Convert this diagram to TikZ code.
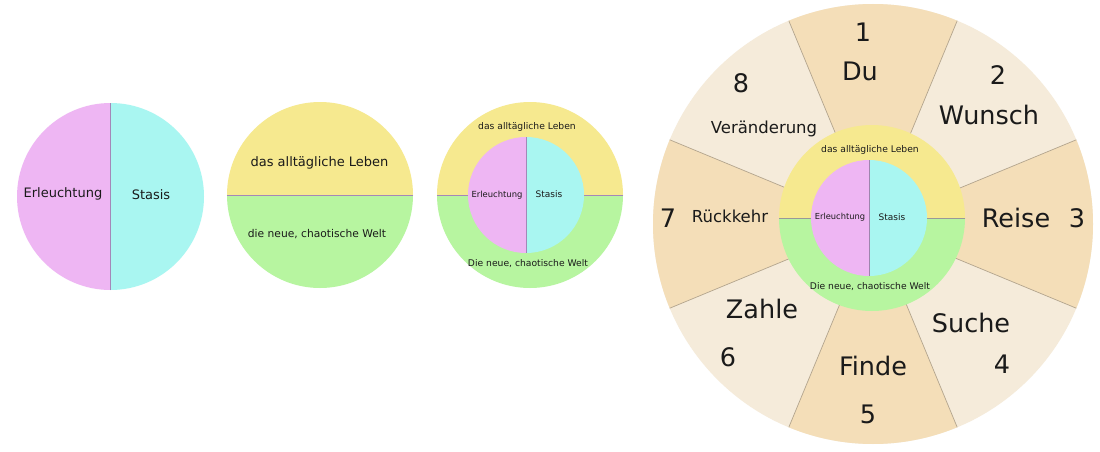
\documentclass[tikz,border=0pt]{standalone}
\usepackage{fontspec}
\setmainfont{DejaVu Sans}
\usetikzlibrary{calc}
\definecolor{pinkc}{HTML}{EEB6F3}
\definecolor{cyanc}{HTML}{A9F6F1}
\definecolor{yellowc}{HTML}{F6E98F}
\definecolor{greenc}{HTML}{B7F5A0}
\definecolor{darksec}{HTML}{F4DEB8}
\definecolor{lightsec}{HTML}{F5EBDA}
\definecolor{secline}{HTML}{B3A58E}
\definecolor{divline}{HTML}{A487B8}
\definecolor{txt}{HTML}{1A1A1A}
\tikzset{
  lbl/.style={anchor=base,inner sep=0pt,text=txt,font=\fontsize{#1}{#1}\selectfont,yshift={-0.36*#1pt}},
  divider/.style={draw=divline,line width=0.9pt},
  seclinestyle/.style={draw=secline,line width=0.7pt},
}
\begin{document}
\begin{tikzpicture}[x=1pt,y=1pt]
\useasboundingbox (0,0) rectangle (1100,451);
\fill[white] (0,0) rectangle (1100,451);
% ---------- circle 1 ----------
\coordinate (c1) at (110.5,254.5);
\fill[pinkc] (c1) -- ++(90:93.5) arc[start angle=90,end angle=270,radius=93.5] -- cycle;
\fill[cyanc] (c1) -- ++(-90:93.5) arc[start angle=-90,end angle=90,radius=93.5] -- cycle;
\coordinate (c1t) at ($(c1)+(0,93.5)$);
\coordinate (c1b) at ($(c1)+(0,-93.5)$);
\draw[divider] (c1t) -- (c1b);
\node[lbl=13] (e1) at (63,258) {Erleuchtung};
\node[lbl=13] (s1) at (151,256) {Stasis};
% ---------- circle 2 ----------
\coordinate (c2) at (320,256);
\fill[yellowc] (c2) -- ++(0:93) arc[start angle=0,end angle=180,radius=93] -- cycle;
\fill[greenc] (c2) -- ++(180:93) arc[start angle=180,end angle=360,radius=93] -- cycle;
\coordinate (c2l) at ($(c2)+(-93,0)$);
\coordinate (c2r) at ($(c2)+(93,0)$);
\draw[divider] (c2l) -- (c2r);
\node[lbl=13] (d2) at (319.5,289) {das alltägliche Leben};
\node[lbl=10.7] (w2) at (317,217) {die neue, chaotische Welt};
% ---------- circle 3 ----------
\coordinate (c3) at (530,256);
\fill[yellowc] (c3) -- ++(0:93) arc[start angle=0,end angle=180,radius=93] -- cycle;
\fill[greenc] (c3) -- ++(180:93) arc[start angle=180,end angle=360,radius=93] -- cycle;
\coordinate (c3l) at ($(c3)+(-93,0)$);
\coordinate (c3r) at ($(c3)+(93,0)$);
\draw[divider] (c3l) -- (c3r);
\coordinate (p3) at (526,256);
\fill[pinkc] (p3) -- ++(90:58) arc[start angle=90,end angle=270,radius=58] -- cycle;
\fill[cyanc] (p3) -- ++(-90:58) arc[start angle=-90,end angle=90,radius=58] -- cycle;
\coordinate (p3t) at ($(p3)+(0,58)$);
\coordinate (p3b) at ($(p3)+(0,-58)$);
\draw[divider] (p3t) -- (p3b);
\node[lbl=9.2] (d3) at (527,325) {das alltägliche Leben};
\node[lbl=8.4] (e3) at (497,257) {Erleuchtung};
\node[lbl=9] (s3) at (549,257) {Stasis};
\node[lbl=9.2] (w3) at (528,188) {Die neue, chaotische Welt};
% ---------- big wheel ----------
\coordinate (c4) at (873,227);
\fill[lightsec] (c4) circle[radius=220];
\foreach \a in {90,0,-90,180}{
  \fill[darksec] (c4) -- ++(\a-22.5:220) arc[start angle=\a-22.5,end angle=\a+22.5,radius=220] -- cycle;
}
\foreach \a in {22.5,67.5,...,337.5}{
  \draw[seclinestyle] (c4) -- ++(\a:220);
}
% ring
\coordinate (r4) at (872,233);
\fill[yellowc] (r4) -- ++(0:93) arc[start angle=0,end angle=180,radius=93] -- cycle;
\fill[greenc] (r4) -- ++(180:93) arc[start angle=180,end angle=360,radius=93] -- cycle;
\coordinate (r4l) at ($(r4)+(-93,0)$);
\coordinate (r4r) at ($(r4)+(93,0)$);
\draw[draw=gray!80,line width=0.8pt] (r4l) -- (r4r);
\coordinate (p4) at (869,233);
\fill[pinkc] (p4) -- ++(90:58) arc[start angle=90,end angle=270,radius=58] -- cycle;
\fill[cyanc] (p4) -- ++(-90:58) arc[start angle=-90,end angle=90,radius=58] -- cycle;
\coordinate (p4t) at ($(p4)+(0,58)$);
\coordinate (p4b) at ($(p4)+(0,-58)$);
\draw[draw=divline!80!gray,line width=0.8pt] (p4t) -- (p4b);
\node[lbl=9.2] (d4) at (870,302) {das alltägliche Leben};
\node[lbl=9.2] (w4) at (870,165) {Die neue, chaotische Welt};
\node[lbl=8.3] (e4) at (840,234) {Erleuchtung};
\node[lbl=9] (s4) at (892,234) {Stasis};
% sector labels
\tikzset{big/.style={lbl=25.5},
         med/.style={lbl=16.5}}
\node[big] (n1) at (863,419) {1};
\node[big] (t1) at (860,380) {Du};
\node[big] (n2) at (998,376) {2};
\node[big] (t2) at (989,336) {Wunsch};
\node[big] (t3) at (1016,233) {Reise};
\node[big] (n3) at (1077,233) {3};
\node[big] (t4) at (971,128) {Suche};
\node[big] (n4) at (1002,87) {4};
\node[big] (t5) at (873,85) {Finde};
\node[big] (n5) at (868,37) {5};
\node[big] (t6) at (762,142) {Zahle};
\node[big] (n6) at (728,94) {6};
\node[big] (n7) at (668,233) {7};
\node[med] (t7) at (730,234) {Rückkehr};
\node[big] (n8) at (741,368) {8};
\node[med] (t8) at (764,323) {Veränderung};
\end{tikzpicture}
\end{document}
